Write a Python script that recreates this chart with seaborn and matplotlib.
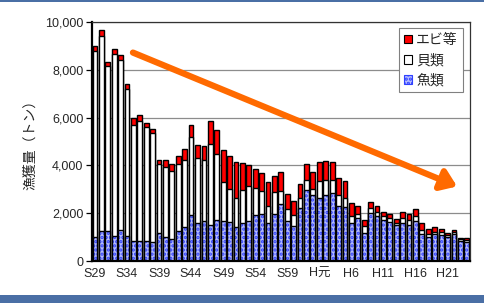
import numpy as np
import matplotlib
matplotlib.use("Agg")
import matplotlib.pyplot as plt
from matplotlib.patches import Patch, Rectangle
import seaborn as sns

# catch by year, S29 (1954) .. H24 (2012), in tonnes
fish = [1010, 1250, 1250, 1060, 1290, 1060, 850, 850, 850, 810,
        1190, 1010, 900, 1250, 1430, 1940, 1600, 1660, 1500, 1720,
        1670, 1640, 1430, 1610, 1680, 1945, 1960, 1610, 1950, 2375,
        1675, 1460, 2210, 2960, 2765, 2630, 2750, 2830, 2290, 2240,
        1600, 1780, 1180, 2000, 1890, 1735, 1640, 1500, 1570, 1500,
        1680, 1125, 985, 1110, 1085, 985, 1150, 850, 805]
shell = [7780, 8170, 6920, 7620, 7110, 6130, 4860, 5020, 4760, 4545,
         2860, 2920, 2855, 2820, 2810, 3240, 2730, 2585, 3400, 2750,
         1635, 1390, 1210, 1380, 1445, 1125, 970, 680, 950, 550,
         485, 480, 435, 440, 265, 730, 640, 545, 460, 415,
         290, 205, 280, 200, 140, 140, 140, 110, 210, 210,
         195, 165, 140, 110, 110, 100, 70, 50, 90]
ebi = [210, 230, 170, 170, 220, 210, 270, 240, 180, 155,
       170, 290, 315, 330, 460, 520, 530, 585, 950, 1020,
       1320, 1345, 1500, 1110, 875, 790, 750, 1015, 670, 785,
       625, 560, 575, 670, 690, 790, 777, 750, 715, 695,
       540, 320, 250, 250, 275, 155, 180, 165, 275, 275,
       280, 280, 195, 210, 140, 95, 70, 45, 50]

years = list(range(1954, 2013))
tick_years = [1954, 1959, 1964, 1969, 1974, 1979, 1984, 1989, 1994, 1999, 2004, 2009]
tick_labels = ["S29", "S34", "S39", "S44", "S49", "S54", "S59", "H元", "H6", "H11", "H16", "H21"]
legend_labels = ["エビ等", "貝類", "魚類"]

fish = np.array(fish)
shell = np.array(shell)
ebi = np.array(ebi)
total = fish + shell + ebi
fish_shell = fish + shell

sns.set_style("white")
plt.rcParams['font.family'] = ['Liberation Sans', 'Noto Sans CJK JP', 'DejaVu Sans']
plt.rcParams['hatch.linewidth'] = 1.6

fig = plt.figure(figsize=(4.84, 3.03), dpi=100)
ax = fig.add_axes([0.1895, 0.1386, 0.7815, 0.7888])

red = "#ff0000"
blue_face = "#b4bbff"
blue_dots = "#2f40ff"
w = 0.75

# stack by overdrawing cumulative totals
sns.barplot(x=years, y=total, color=red, saturation=1, width=w,
            edgecolor="black", linewidth=1.0, ax=ax)
sns.barplot(x=years, y=fish_shell, color="white", saturation=1, width=w,
            edgecolor="black", linewidth=1.0, ax=ax)
sns.barplot(x=years, y=fish, color=blue_face, saturation=1, width=w,
            edgecolor=blue_dots, linewidth=0, hatch="....", ax=ax)
sns.barplot(x=years, y=fish, fill=False, width=w,
            edgecolor="black", linewidth=1.0, ax=ax)

ax.set_ylim(0, 10000)
ax.set_xlim(-0.5, len(years) - 0.5)
ax.set_yticks(np.arange(0, 10001, 2000))
ax.set_yticklabels([f"{v:,}" for v in range(0, 10001, 2000)], fontsize=9)

pos = [years.index(y) for y in tick_years]
ax.set_xticks(pos)
ax.set_xticklabels(tick_labels, fontsize=9)
ax.set_xticks(np.arange(-0.5, len(years), 1), minor=True)
ax.tick_params(axis="x", which="major", length=0, pad=5)
ax.tick_params(axis="x", which="minor", direction="out", length=4, width=0.9, color="black")
ax.tick_params(axis="y", direction="out", length=4, width=0.9, color="black", pad=2, left=True)

ax.set_xlabel("")
ax.set_ylabel("漁獲量（トン）", fontsize=10, family=['Noto Sans CJK JP'], labelpad=6)

ax.yaxis.grid(True, color="#8c8c8c", linewidth=0.9)
ax.set_axisbelow(True)

for s in ["left", "bottom"]:
    ax.spines[s].set_color("black")
    ax.spines[s].set_linewidth(1.6)
for s in ["top", "right"]:
    ax.spines[s].set_visible(True)
    ax.spines[s].set_color("#333333")
    ax.spines[s].set_linewidth(0.9)

# downward trend arrow
ax.annotate("", xy=(0.966, 0.312), xytext=(0.109, 0.872), xycoords="axes fraction",
            arrowprops=dict(arrowstyle="-|>,head_length=0.7,head_width=0.5",
                            color="#ff6a00", lw=4.5, mutation_scale=13,
                            shrinkA=0, shrinkB=0))

handles = [Patch(facecolor=red, edgecolor="black", linewidth=0.8),
           Patch(facecolor="white", edgecolor="black", linewidth=0.8),
           Patch(facecolor=blue_face, edgecolor=blue_dots, hatch="....", linewidth=0.8)]
leg = ax.legend(handles, legend_labels, loc="upper right", bbox_to_anchor=(0.981, 0.975),
                borderaxespad=0, fancybox=False, framealpha=1, edgecolor="#808080",
                handlelength=0.6, handleheight=0.6, handletextpad=0.3, labelspacing=0.45,
                borderpad=0.35, prop={"family": ["Noto Sans CJK JP"], "size": 10})
leg.get_frame().set_linewidth(0.8)

# blue frame bands of the slide
fig.patches.append(Rectangle((0, 0), 1, 8 / 303, transform=fig.transFigure,
                             facecolor="#4a6fa5", edgecolor="none", zorder=0))
fig.patches.append(Rectangle((0, 1 - 2 / 303), 1, 2 / 303, transform=fig.transFigure,
                             facecolor="#4a6fa5", edgecolor="none", zorder=0))

fig.savefig("out.png", dpi=100)
